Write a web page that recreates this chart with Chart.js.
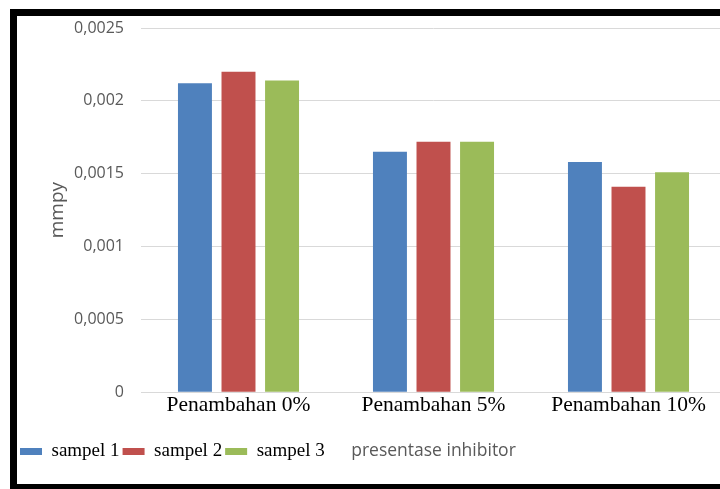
<!DOCTYPE html>
<html>
<head>
<meta charset="utf-8">
<script src="https://cdn.jsdelivr.net/npm/chart.js@4.4.0/dist/chart.umd.min.js"></script>
<style>
  html, body { margin: 0; padding: 0; background: #fff; overflow: hidden; width: 720px; height: 489px; }
  #frame {
    position: absolute; left: 10px; top: 9px; width: 800px; height: 482px;
    box-sizing: border-box; border: 7px solid #000; border-right: none;
  }
  #chart { position: absolute; left: 17px; top: 16px; }
</style>
</head>
<body>
<div id="frame"></div>
<canvas id="chart" width="720" height="468"></canvas>
<script>
const categories = ['Penambahan 0%', 'Penambahan 5%', 'Penambahan 10%'];
const sampel1 = [0.00212, 0.00165, 0.00158];
const sampel2 = [0.0022, 0.00172, 0.00141];
const sampel3 = [0.00214, 0.00172, 0.00151];
const yTickLabels = ['0', '0,0005', '0,001', '0,0015', '0,002', '0,0025'];
const yStep = 0.0005;

const gray = '#595959';
const gridColor = '#d9d9d9';

new Chart(document.getElementById('chart'), {
    type: 'bar',
    data: {
        labels: categories,
        datasets: [
            { label: 'sampel 1', data: sampel1, backgroundColor: '#4F81BD' },
            { label: 'sampel 2', data: sampel2, backgroundColor: '#C0504D' },
            { label: 'sampel 3', data: sampel3, backgroundColor: '#9BBB59' }
        ]
    },
    options: {
        responsive: false,
        animation: false,
        categoryPercentage: 0.67,
        barPercentage: 0.78,
        layout: { padding: { top: 12, right: 11, bottom: 13, left: 0 } },
        plugins: {
            tooltip: { enabled: false },
            legend: {
                position: 'bottom',
                align: 'start',
                labels: {
                    boxWidth: 22,
                    boxHeight: 7,
                    padding: 3,
                    color: '#000',
                    font: { family: '"Liberation Serif", serif', size: 19 }
                }
            }
        },
        scales: {
            x: {
                grid: { display: false, drawTicks: false },
                border: { color: gridColor },
                ticks: {
                    padding: 0,
                    color: '#000',
                    font: { family: '"Liberation Serif", serif', size: 21.5 }
                },
                title: {
                    display: true,
                    text: 'presentase inhibitor',
                    color: gray,
                    font: { family: '"Open Sans", sans-serif', size: 17.5 },
                    padding: { top: 23, bottom: -23 }
                }
            },
            y: {
                min: 0,
                max: 0.0025,
                afterFit: scale => { scale.width = 124; },
                grid: { color: gridColor, tickLength: 17, tickColor: 'rgba(0,0,0,0)' },
                border: { display: false },
                ticks: {
                    stepSize: yStep,
                    padding: 0,
                    color: gray,
                    font: { family: '"Open Sans", sans-serif', size: 16 },
                    callback: v => yTickLabels[Math.round(v / yStep)]
                },
                title: {
                    display: true,
                    text: 'mmpy',
                    color: gray,
                    font: { family: '"Open Sans", sans-serif', size: 19 },
                    padding: { top: 29, bottom: 0 }
                }
            }
        }
    }
});
</script>
</body>
</html>
